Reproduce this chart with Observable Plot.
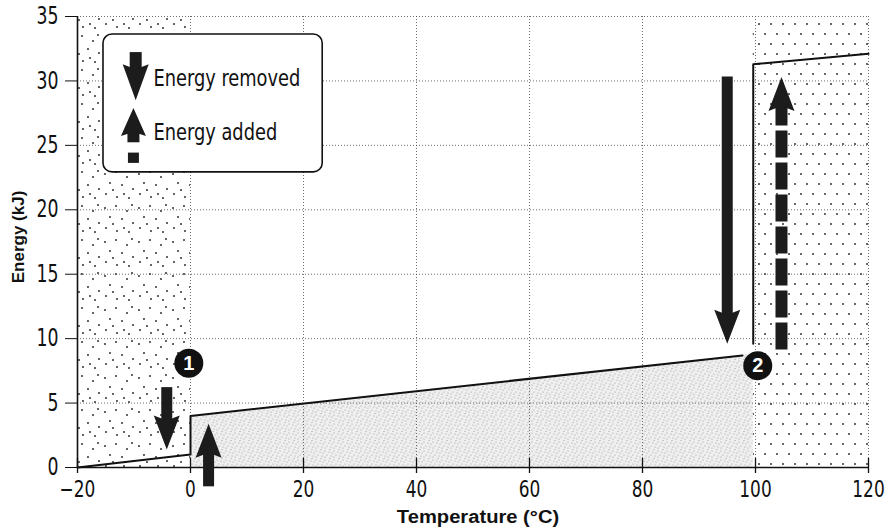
<!DOCTYPE html>
<html>
<head>
<meta charset="utf-8">
<script src="https://cdn.jsdelivr.net/npm/d3@7"></script>
<script src="https://cdn.jsdelivr.net/npm/@observablehq/plot@0.6"></script>
<style>
  body { margin: 0; background: #fff; }
  #chart svg { display: block; }
</style>
</head>
<body>
<div id="chart"></div>
<script>
// ---------- data ----------
const xTicks = [-20, 0, 20, 40, 60, 80, 100, 120];
const yTicks = [0, 5, 10, 15, 20, 25, 30, 35];

// heating curve (temperature °C, energy kJ), two separate pieces
const curveT   = [-20, 0,   0,   97.7, 99.6, 99.6, 120];
const curveE   = [0,   1.0, 4.0, 8.7,  9.6,  31.3, 32.1];
const curveSeg = ["a", "a", "a", "a",  "b",  "b",  "b"];

// liquid region (under the liquid line)
const liquidT = [0, 99.6];
const liquidE = [4.0, 8.8];

// solid and gas phase regions
const phaseX1 = [-20, 99.6];
const phaseX2 = [0, 120];
const phaseFill = ["url(#ice)", "url(#gas)"];

// energy arrows
const arrowX      = [-4.2, 3.2, 95, 104.6];
const arrowFrom   = [6.2, -1.5, 30.3, 9.0];
const arrowTo     = [1.4, 3.4, 9.6, 30.3];
const arrowDir    = ["down", "up", "down", "up"];
const arrowDashed = [false, false, false, true];

// numbered markers
const markerT = [-0.3, 100.4];
const markerE = [8.1, 7.9];
const markerLabel = ["1", "2"];

// legend
const legendLabels = ["Energy removed", "Energy added"];

// axis titles
const xTitle = "Temperature (\u00B0C)";
const yTitle = "Energy (kJ)";

// ---------- tables ----------
const curve = curveT.map((t, i) => ({t, e: curveE[i], seg: curveSeg[i]}));
const liquid = liquidT.map((t, i) => ({t, e: liquidE[i]}));
const phases = phaseX1.map((x1, i) => ({x1, x2: phaseX2[i], fill: phaseFill[i]}));
const arrows = arrowX.map((x, i) => ({x, from: arrowFrom[i], to: arrowTo[i], dir: arrowDir[i], dashed: arrowDashed[i]}));
const downArrows = arrows.filter(d => d.dir === "down");
const upArrows = arrows.filter(d => d.dir === "up" && !d.dashed);
const upDashed = arrows.filter(d => d.dir === "up" && d.dashed);
const markers = markerT.map((t, i) => ({t, e: markerE[i], label: markerLabel[i]}));

// legend layout (data coordinates)
const legendBox = [{x1: -15.4, x2: 23.4, y1: 22.9, y2: 33.6}];
const legendItems = [
  {label: legendLabels[0], tx: -6.55, ty: 30.2},
  {label: legendLabels[1], tx: -6.55, ty: 26.0}
];
const legendDown = [{x: -9.7, from: 32.2, to: 28.5}];
const legendUp = [{x: -10.1, from: 25.2, to: 27.9}];
const legendDash = [{x: -10.1, y1: 24.4, y2: 23.6}];

// ---------- symbols ----------
function head(L, W, notch) {
  return {
    draw(ctx) {
      ctx.moveTo(0, 0);
      ctx.lineTo(W / 2, L);
      ctx.lineTo(0, L - notch);
      ctx.lineTo(-W / 2, L);
      ctx.closePath();
    }
  };
}
const bigHead = head(34, 26, 5);
const smallHead = head(28, 25, 4);

const ink = "#1c1c1c";
const narrow = "'Liberation Sans Narrow', 'DejaVu Sans Condensed', 'Arial Narrow', sans-serif";
const boldFont = "'Liberation Sans', Arial, sans-serif";

const chart = Plot.plot({
  width: 889,
  height: 527,
  marginLeft: 77,
  marginRight: 21,
  marginTop: 16,
  marginBottom: 60,
  x: {domain: [-20, 120]},
  y: {domain: [0, 35]},
  style: {fontFamily: narrow, background: "#fff", color: "#111"},
  marks: [
    // phase regions
    Plot.rect(phases, {x1: "x1", x2: "x2", y1: 0, y2: 35, fill: "fill"}),
    Plot.areaY(liquid, {x: "t", y: "e", fill: "url(#liquid)"}),
    // grid
    Plot.gridX(xTicks, {stroke: "#555", strokeOpacity: 0.85, strokeDasharray: "1,2"}),
    Plot.gridY(yTicks, {stroke: "#555", strokeOpacity: 0.85, strokeDasharray: "1,2"}),
    // heating curve
    Plot.line(curve, {x: "t", y: "e", z: "seg", stroke: "#111", strokeWidth: 2, curve: "linear"}),
    // axes
    Plot.ruleY([0], {stroke: "#111", strokeWidth: 1.6}),
    Plot.ruleX([-20], {stroke: "#111", strokeWidth: 1.6}),
    Plot.ruleX(xTicks, {x: d => d, y1: 0, y2: 0, insetTop: -9, insetBottom: -6, stroke: "#111", strokeWidth: 1.3}),
    Plot.axisY(yTicks, {tickSize: 12, tickPadding: 7, fontSize: 24, label: null, stroke: "#111", className: "ytl"}),
    Plot.axisX(xTicks, {tickSize: 0, tickPadding: 13, fontSize: 23, label: null, className: "xtl",
      tickFormat: d => d < 0 ? "\u2212" + Math.abs(d) : String(d)}),
    Plot.text([xTitle], {frameAnchor: "bottom", dy: 50, dx: 5, lineAnchor: "middle", textAnchor: "middle",
      fontSize: 18, fontWeight: "bold", fontFamily: boldFont, fill: "#111", className: "xtitle"}),
    Plot.text([yTitle], {frameAnchor: "left", dx: -59, dy: -5, rotate: -90, textAnchor: "middle", lineAnchor: "middle",
      fontSize: 17, fontWeight: "bold", fontFamily: boldFont, fill: "#111"}),
    // arrows: shafts
    Plot.ruleX(downArrows, {x: "x", y1: "from", y2: "to", insetBottom: 28, stroke: ink, strokeWidth: 11}),
    Plot.ruleX(upArrows, {x: "x", y1: "to", y2: "from", insetTop: 28, stroke: ink, strokeWidth: 11}),
    Plot.ruleX(upDashed, {x: "x", y1: "to", y2: "from", insetTop: 22, stroke: ink, strokeWidth: 12,
      strokeDasharray: "27,5", strokeLinecap: "butt"}),
    // arrows: heads
    Plot.dot(downArrows, {x: "x", y: "to", symbol: bigHead, rotate: 180, fill: ink, stroke: "none"}),
    Plot.dot(arrows.filter(d => d.dir === "up"), {x: "x", y: "to", symbol: bigHead, fill: ink, stroke: "none"}),
    // markers
    Plot.dot(markers, {x: "t", y: "e", r: 14.5, fill: "#111", stroke: "none"}),
    Plot.text(markers, {x: "t", y: "e", text: "label", fill: "#fff", fontSize: 20, fontWeight: "bold", fontFamily: boldFont}),
    // legend
    Plot.rect(legendBox, {x1: "x1", x2: "x2", y1: "y1", y2: "y2", rx: 9, fill: "#fff", stroke: "#111", strokeWidth: 1.6}),
    Plot.ruleX(legendDown, {x: "x", y1: "from", y2: "to", insetBottom: 22, stroke: ink, strokeWidth: 12}),
    Plot.dot(legendDown, {x: "x", y: "to", symbol: head(36, 26, 5), rotate: 180, fill: ink, stroke: "none"}),
    Plot.ruleX(legendUp, {x: "x", y1: "to", y2: "from", insetTop: 20, stroke: ink, strokeWidth: 12}),
    Plot.dot(legendUp, {x: "x", y: "to", symbol: smallHead, fill: ink, stroke: "none"}),
    Plot.ruleX(legendDash, {x: "x", y1: "y1", y2: "y2", stroke: ink, strokeWidth: 11}),
    Plot.text(legendItems, {x: "tx", y: "ty", text: "label", textAnchor: "start", fontSize: 23, fill: "#111", className: "legtext"})
  ]
});

// pattern definitions
const svg = d3.select(chart);
const defs = svg.insert("defs", ":first-child");
const ice = defs.append("pattern").attr("id", "ice").attr("patternUnits", "userSpaceOnUse")
  .attr("width", 34).attr("height", 34);
[[3,4],[14,2],[25,7],[8,13],[20,15],[31,19],[4,24],[15,27],[27,28],[11,20],[22,24],[30,1]]
  .forEach(([cx, cy]) => ice.append("circle").attr("cx", cx).attr("cy", cy).attr("r", 0.95).attr("fill", "#222"));
const gas = defs.append("pattern").attr("id", "gas").attr("patternUnits", "userSpaceOnUse")
  .attr("width", 12).attr("height", 20);
[[3,4],[9,14]].forEach(([cx, cy]) => gas.append("circle").attr("cx", cx).attr("cy", cy).attr("r", 1.0).attr("fill", "#333"));
const liq = defs.append("pattern").attr("id", "liquid").attr("patternUnits", "userSpaceOnUse")
  .attr("width", 9).attr("height", 9);
liq.append("rect").attr("width", 9).attr("height", 9).attr("fill", "#efefef");
[[1,1],[5,2],[3,5],[7,6],[1,7],[6,8.5],[8,3]]
  .forEach(([cx, cy]) => liq.append("circle").attr("cx", cx).attr("cy", cy).attr("r", 0.6).attr("fill", "#999"));

document.getElementById("chart").appendChild(chart);

// condense text horizontally to mimic the narrow typeface
function squeeze(selector, factor) {
  chart.querySelectorAll(selector).forEach(t => {
    const w = t.getComputedTextLength();
    t.setAttribute("textLength", (w * factor).toFixed(1));
    t.setAttribute("lengthAdjust", "spacingAndGlyphs");
  });
}
function scaleX(selector, factor) {
  chart.querySelectorAll(selector).forEach(t => {
    const tr = t.getAttribute("transform") || "";
    t.setAttribute("transform", `${tr} scale(${factor},1)`);
  });
}
scaleX(".ytl text", 0.8);
scaleX(".xtl text", 0.82);
squeeze(".legtext text", 0.86);
squeeze(".xtitle text", 1.12);
</script>
</body>
</html>
